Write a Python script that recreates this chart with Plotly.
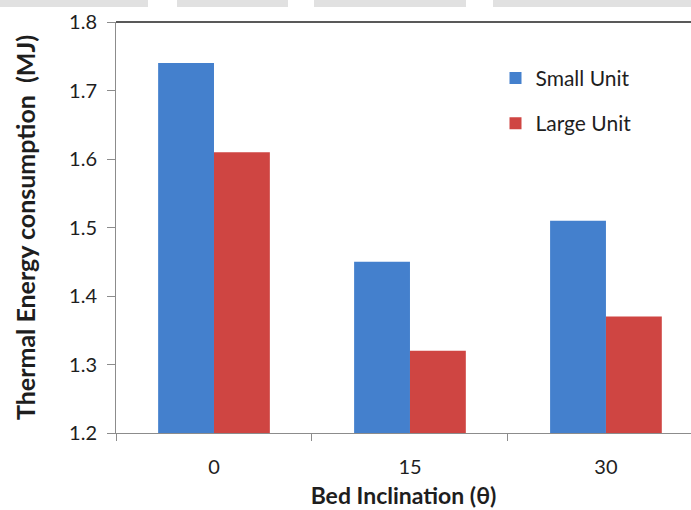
import plotly.graph_objects as go

# Bed inclination categories and thermal energy consumption (MJ)
inclinations = ["0", "15", "30"]
small_unit = [1.74, 1.45, 1.51]
large_unit = [1.61, 1.32, 1.37]

blue = "#4480CD"
red = "#CF4542"
axis_grey = "#8C8C8C"
text_col = "#1E1E1E"
font_family = "Lato, 'Open Sans', sans-serif"

fig = go.Figure()
fig.add_trace(go.Bar(x=inclinations, y=small_unit, name="Small Unit",
                     marker=dict(color=blue, line=dict(width=0)),
                     legendgroup="small"))
fig.add_trace(go.Bar(x=inclinations, y=large_unit, name="Large Unit",
                     marker=dict(color=red, line=dict(width=0)),
                     legendgroup="large"))

# light grey header strip segments across the top edge
for x0, x1 in [(0, 148), (177, 288), (314, 466), (493, 691)]:
    fig.add_shape(type="rect", xref="paper", yref="paper",
                  x0=(x0 - 116) / 575, x1=(x1 - 116) / 575,
                  y0=1 + 15 / 411, y1=1 + 22 / 411,
                  fillcolor="#E1E1E1", line=dict(width=0), layer="below")
# dark rule along the top of the plot area
fig.add_shape(type="line", xref="paper", yref="paper",
              x0=0, x1=1, y0=1, y1=1,
              line=dict(color="#595959", width=2))

fig.update_layout(
    width=691, height=510,
    margin=dict(l=116, r=0, t=22, b=77),
    paper_bgcolor="white", plot_bgcolor="white",
    barmode="group", bargap=0.43, bargroupgap=0,
    font=dict(family=font_family, color=text_col, size=18),
    showlegend=True,
    legend=dict(x=0.66, y=0.913, xanchor="left", yanchor="top",
                font=dict(size=21, color=text_col),
                traceorder="grouped", tracegroupgap=15,
                bgcolor="rgba(0,0,0,0)", itemwidth=30),
    xaxis=dict(
        type="category", range=[-0.5, 2.434],
        showline=True, linecolor=axis_grey, linewidth=1,
        ticks="outside", ticklen=7, tickcolor=axis_grey,
        tickson="boundaries", showgrid=False,
        tickfont=dict(size=20, color=text_col),
        ticklabelstandoff=16,
        title=dict(text="<b>Bed Inclination (θ)</b>", standoff=10,
                   font=dict(size=23, color=text_col)),
    ),
    yaxis=dict(
        range=[1.2, 1.8], dtick=0.1, tickformat=".1f",
        showline=True, linecolor=axis_grey, linewidth=1,
        ticks="outside", ticklen=8, tickcolor=axis_grey,
        showgrid=False, zeroline=False,
        tickfont=dict(size=20, color=text_col),
        ticklabelstandoff=6,
        title=dict(text="<b>Thermal Energy consumption  (MJ)</b>", standoff=26,
                   font=dict(size=25, color=text_col)),
    ),
)

fig.write_html("out.html")
